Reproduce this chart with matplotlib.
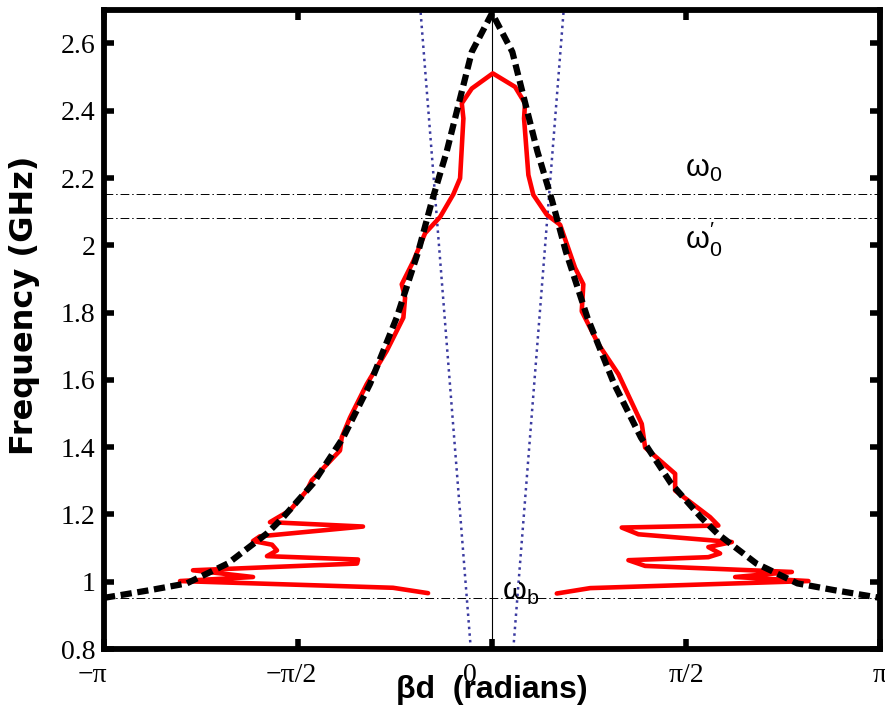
import numpy as np
import matplotlib
matplotlib.use("Agg")
import matplotlib.pyplot as plt
import matplotlib.transforms as mtransforms

# dashed black curve (theory), one half, mirrored about beta = 0
theory_beta = [0.0, 0.164, 0.367, 0.488, 0.597, 0.772, 0.988, 1.206, 1.449,
               1.692, 1.824, 2.140, 2.472, 2.769, np.pi]
theory_freq = [2.69, 2.575, 2.279, 2.130, 1.982, 1.785, 1.588, 1.428, 1.292,
               1.191, 1.143, 1.054, 0.995, 0.975, 0.952]

# measured curve (red), traced from left low end to right low end
meas_beta = [-0.518, -0.802, -2.526, -1.935, -2.421, -1.093, -1.085, -1.822,
             -1.741, -1.781, -1.935, -1.879, -1.045, -1.798, -1.636,
             -1.500, -1.460, -1.231, -1.217, -1.150, -1.015, -0.853, -0.718,
             -0.704, -0.731, -0.637, -0.542, -0.421, -0.313, -0.259, -0.232,
             -0.245, -0.164, 0.006, 0.186, 0.267, 0.259, 0.294, 0.334, 0.443,
             0.551, 0.672, 0.739, 0.726, 0.861, 1.023, 1.212, 1.239, 1.482,
             1.482, 1.765, 1.832, 1.050, 1.185, 1.941, 1.751, 1.846, 1.751,
             1.104, 1.239, 2.427, 1.968, 2.561, 0.794, 0.524]
meas_freq = [0.966, 0.982, 1.002, 1.014, 1.034, 1.054, 1.066, 1.076,
             1.093, 1.110, 1.121, 1.135, 1.164, 1.177, 1.212,
             1.271, 1.301, 1.390, 1.429, 1.488, 1.587, 1.686, 1.785,
             1.844, 1.884, 1.953, 2.036, 2.084, 2.152, 2.199, 2.377,
             2.422, 2.466, 2.511, 2.471, 2.422, 2.377, 2.209, 2.150, 2.091,
             2.061, 1.933, 1.884, 1.804, 1.706, 1.617, 1.469, 1.399, 1.321,
             1.271, 1.192, 1.167, 1.161, 1.141, 1.118, 1.103, 1.084, 1.073,
             1.064, 1.047, 1.029, 1.014, 1.002, 0.981, 0.965]

# light lines (blue dotted)
light_freq = [0.8, 2.7]
light_beta = [0.172, 0.58]

# reference frequencies (GHz)
f_omega0 = 2.151
f_omega0p = 2.08
f_omegab = 0.951

xticks = [-np.pi, -np.pi / 2, 0, np.pi / 2, np.pi]
xticklabels = ["\u2212\u03c0", "\u2212\u03c0/2", "0", "\u03c0/2", "\u03c0"]
yticks = [0.8, 1.0, 1.2, 1.4, 1.6, 1.8, 2.0, 2.2, 2.4, 2.6]
yticklabels = ["0.8", "1", "1.2", "1.4", "1.6", "1.8", "2", "2.2", "2.4", "2.6"]

fig = plt.figure(figsize=(8.85, 7.15), dpi=100)
ax = fig.add_axes([0.1175, 0.0923, 0.877, 0.894])

tb = np.array(theory_beta)
tf = np.array(theory_freq)
full_b = np.concatenate([-tb[::-1], tb[1:]])
full_f = np.concatenate([tf[::-1], tf[1:]])

# light lines
ax.plot([-b for b in light_beta], light_freq, ls=":", color="#3a3aa0", lw=1.8)
ax.plot(light_beta, light_freq, ls=":", color="#3a3aa0", lw=1.8)

# horizontal reference lines
for f in [f_omega0, f_omega0p, f_omegab]:
    ax.axhline(f, color="black", lw=0.7, ls=(0, (9, 3, 1.5, 3)))
ax.axvline(0, color="black", lw=0.8)

ax.plot(meas_beta, meas_freq, color="#ff0000", lw=3.3,
        solid_joinstyle="round", solid_capstyle="round")
ax.plot(full_b, full_f, color="black", lw=4.5, ls=(0, (1.8, 0.9)))

ax.set_xlim(-np.pi, np.pi)
ax.set_ylim(0.8, 2.7)

ax.set_xticks(xticks)
ax.set_xticklabels(xticklabels, family="Liberation Serif", fontsize=20)
ax.set_yticks(yticks)
ax.set_yticklabels(yticklabels, family="Liberation Serif", fontsize=20)
ax.tick_params(direction="in", length=7, width=4, top=True, right=True, pad=6)
ax.tick_params(axis="x", pad=10)

# nudge some x tick labels left like the original
for i, dx in [(0, -0.12), (1, -0.07), (2, -0.22)]:
    lab = ax.get_xticklabels()[i]
    lab.set_transform(lab.get_transform() +
                      mtransforms.ScaledTranslation(dx, 0, fig.dpi_scale_trans))

for sp in ax.spines.values():
    sp.set_linewidth(4.2)

ax.set_ylabel("Frequency (GHz)", family="DejaVu Sans", fontweight="bold",
              fontsize=23)
ax.yaxis.set_label_coords(-0.0825, 0.538)
ax.set_xlabel("\u03b2d  (radians)", family="Liberation Sans", fontweight="bold",
              fontsize=23)
ax.xaxis.set_label_coords(0.5, -0.04)

ax.text(1.709, 2.228, r"$\mathregular{\omega_0}$", fontsize=22,
        family="Liberation Sans", ha="center", va="center")
ax.text(1.715, 2.018, r"$\mathregular{\omega_0^{\prime}}$", fontsize=22,
        family="Liberation Sans", ha="center", va="center")
ax.text(0.235, 0.968, r"$\mathregular{\omega_b}$", fontsize=22,
        family="Liberation Sans", ha="center", va="center")

fig.savefig("out.png", dpi=100)
